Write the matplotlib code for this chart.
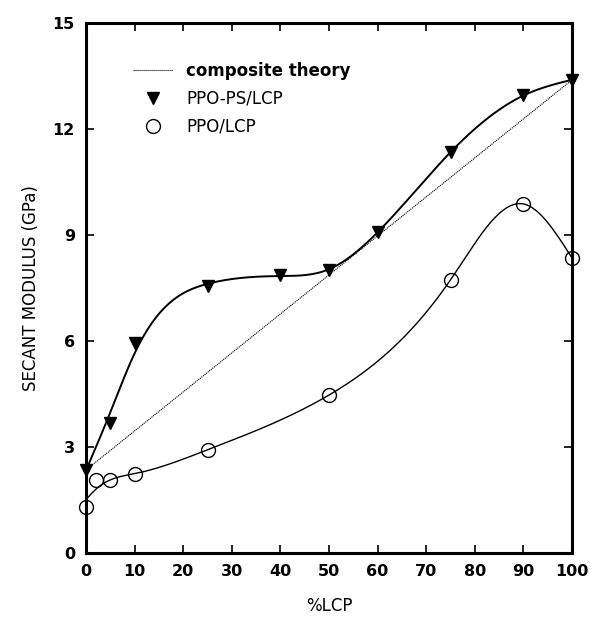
import numpy as np
import matplotlib
matplotlib.use('Agg')
import matplotlib.pyplot as plt

# secant modulus vs LCP content
lcp_ps = [0, 5, 10, 25, 40, 50, 60, 75, 90, 100]
mod_ps = [2.35, 3.68, 5.95, 7.57, 7.87, 8.0, 9.08, 11.35, 12.96, 13.39]
w_ps = [50, 10, 10, 10, 10, 20, 20, 20, 20, 50]     # fit weights for the smooth curve

lcp_ppo = [0, 2, 5, 10, 25, 50, 75, 90, 100]
mod_ppo = [1.3, 2.07, 2.07, 2.24, 2.92, 4.47, 7.73, 9.88, 8.35]
w_ppo = [0.3, 0.3, 1.0, 5, 20, 50, 50, 50, 50]

theory_x = [0, 100]
theory_y = [2.35, 13.39]

plt.rcParams['font.family'] = ['DejaVu Sans']


def smooth(x, y, w, lam):
    """Whittaker smoother on a fine grid (approximates a cubic smoothing spline)."""
    grid = np.linspace(0, 100, 401)
    n = len(grid)
    W = np.zeros(n)
    z = np.zeros(n)
    for xi, yi, wi in zip(x, y, w):
        k = np.argmin(np.abs(grid - xi))
        W[k] = wi
        z[k] = yi
    D = np.diff(np.eye(n), 2, axis=0)
    f = np.linalg.solve(np.diag(W) + lam * D.T @ D, W * z)
    return grid, f


fig = plt.figure(figsize=(5.9, 6.22), dpi=100)
ax = fig.add_axes([0.1458, 0.111, 0.8237, 0.852])

gx, gy = smooth(lcp_ps, mod_ps, w_ps, 2e4)
ax.plot(gx, gy, color='black', lw=1.4)
gx, gy = smooth(lcp_ppo, mod_ppo, w_ppo, 300.0)
ax.plot(gx, gy, color='black', lw=1.0)

ax.plot(theory_x, theory_y, color='black', lw=0.8, ls=(0, (1, 0.8)),
        label='composite theory')
ax.plot(lcp_ps, mod_ps, 'v', color='black', ms=9, ls='none', label='PPO-PS/LCP',
        clip_on=False)
ax.plot(lcp_ppo, mod_ppo, 'o', mfc='none', mec='black', mew=1.0, ms=10,
        ls='none', label='PPO/LCP', clip_on=False)

ax.set_xlim(0, 100)
ax.set_ylim(0, 15)
ax.set_xticks(np.arange(0, 101, 10))
ax.set_yticks(np.arange(0, 16, 3))
ax.tick_params(direction='in', length=6, width=1.2, top=True, right=True,
               labelsize=11.5, pad=8)
for lbl in ax.get_xticklabels() + ax.get_yticklabels():
    lbl.set_fontweight('bold')
for s in ax.spines.values():
    s.set_linewidth(2.2)

ax.set_xlabel('%LCP', fontsize=12, labelpad=13)
ax.set_ylabel('SECANT MODULUS (GPa)', fontsize=12, labelpad=9)

leg = ax.legend(loc='upper left', bbox_to_anchor=(0.065, 0.955), frameon=False,
                fontsize=12, handlelength=2.4, handletextpad=0.8,
                labelspacing=0.6)
leg.get_texts()[0].set_fontweight('bold')

fig.savefig('out.png', dpi=100)
